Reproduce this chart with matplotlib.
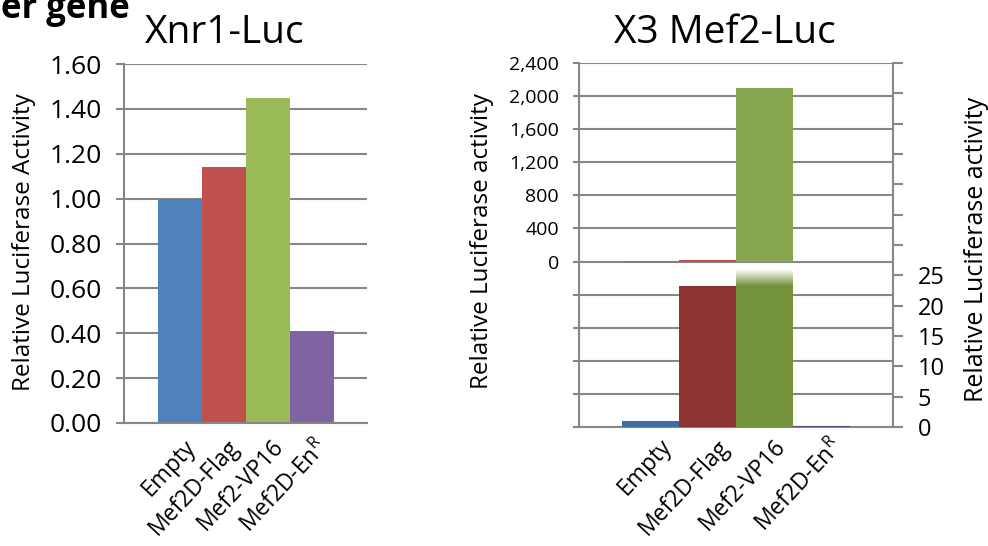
import numpy as np
import matplotlib
matplotlib.use("Agg")
import matplotlib.pyplot as plt
from matplotlib.patches import Rectangle
from matplotlib.ticker import FixedLocator, FuncFormatter
from matplotlib.transforms import ScaledTranslation

plt.rcParams['font.family'] = ['Open Sans', 'DejaVu Sans']
plt.rcParams['mathtext.fontset'] = 'custom'
plt.rcParams['mathtext.rm'] = 'Open Sans'
plt.rcParams['mathtext.it'] = 'Open Sans'

# ---- data ----
constructs = ['Empty', 'Mef2D-Flag', 'Mef2-VP16', r'Mef2D-En$^{\mathrm{R}}$']
xnr1_activity = [1.00, 1.14, 1.45, 0.41]
mef2_activity = [1.0, 23.3, 2100.0, 0.2]

xnr1_colors = ['#4F81BD', '#C0504D', '#9BBB59', '#8064A2']
mef2_colors_main = ['#4F81BD', '#C0504D', '#88A54F', '#8064A2']
mef2_colors_zoom = ['#3F6CA5', '#8E3433', '#74923C', '#5F497A']

GRID = '#878787'
W, H = 988, 546
fig = plt.figure(figsize=(W / 100, H / 100), dpi=100)


def px_axes(x0, y_top, x1, y_bot):
    return fig.add_axes([x0 / W, (H - y_bot) / H, (x1 - x0) / W, (y_bot - y_top) / H])


def fy(y_px):
    return 1 - y_px / H


def style_axis(ax, ticklen, pad):
    for s in ['top', 'right']:
        ax.spines[s].set_visible(False)
    for s in ['left', 'bottom']:
        ax.spines[s].set_color(GRID)
        ax.spines[s].set_linewidth(1.5)
    ax.grid(axis='y', color=GRID, linewidth=1.5)
    ax.set_axisbelow(True)
    ax.tick_params(axis='y', length=ticklen, width=1.5, color=GRID, direction='out', pad=pad)
    ax.tick_params(axis='x', length=0)


def xlabels(ax, fontsize, pad, shift_px):
    ax.set_xticks(range(len(constructs)))
    ax.set_xticklabels(constructs, rotation=47, ha='right', va='top',
                       rotation_mode='anchor', fontsize=fontsize)
    ax.tick_params(axis='x', pad=pad)
    shift = ScaledTranslation(shift_px / 100, 0, fig.dpi_scale_trans)
    for lbl in ax.get_xticklabels():
        lbl.set_transform(lbl.get_transform() + shift)


fig.text(1 / W, fy(18), 'er gene', fontsize=25, fontweight='bold', va='baseline', ha='left')

# ---- Xnr1-Luc ----
ax1 = px_axes(124, 64, 367, 423)
x = np.arange(len(constructs))
ax1.bar(x, xnr1_activity, width=1.0, color=xnr1_colors, zorder=2)
ax1.set_xlim(-1.273, 4.25)
ax1.set_ylim(0, 1.6)
ax1.set_yticks(np.arange(0, 1.61, 0.2))
ax1.yaxis.set_major_formatter(FuncFormatter(lambda v, p: f'{v:.2f}'))
style_axis(ax1, 6, 10)
ax1.tick_params(axis='y', labelsize=19)
xlabels(ax1, 16.5, 8.5, 3)
fig.text(24 / W, fy(242), 'Relative Luciferase Activity', fontsize=17.5,
         rotation=90, ha='center', va='center')
fig.text(225 / W, fy(43), 'Xnr1-Luc', fontsize=28, ha='center', va='baseline')

# ---- X3 Mef2-Luc (broken scale: full range on the left axis, low range on the right) ----
ax2 = px_axes(579, 63, 893, 427)
ax2.bar(x, mef2_activity, width=1.0, color=mef2_colors_main, zorder=2)
ax2.set_xlim(-1.258, 4.258)
ax2.set_ylim(-2000, 2400)
ax2.yaxis.set_major_locator(FixedLocator(np.arange(-2000, 2401, 400)))
ax2.yaxis.set_major_formatter(FuncFormatter(lambda v, p: f'{v:,.0f}' if v >= 0 else ''))
style_axis(ax2, 4.5, 10)
ax2.tick_params(axis='y', labelsize=14)
xlabels(ax2, 16.5, 5.5, 9)
fig.text(482 / W, fy(241), 'Relative Luciferase activity', fontsize=17.5,
         rotation=90, ha='center', va='center')
fig.text(725 / W, fy(43), 'X3 Mef2-Luc', fontsize=28, ha='center', va='baseline')

ax3 = ax2.twinx()
low_bars = ax3.bar(x, mef2_activity, width=1.0, color=mef2_colors_zoom, zorder=2)
ax3.set_ylim(0, 60)
cut = 25.9
clip = Rectangle((-5, 0), 15, cut, transform=ax3.transData)
for b in low_bars:
    b.set_clip_path(clip)
# fade the truncated bar into white at the break
fade = np.zeros((64, 1, 4))
fade[..., :3] = 1.0
fade[:, 0, 3] = np.linspace(1.0, 0.0, 64)
ax3.imshow(fade, extent=(1.5, 2.5, 23.2, cut), origin='upper', aspect='auto',
           interpolation='bilinear', zorder=3)
ax3.set_xlim(-1.258, 4.258)
ax3.set_ylim(0, 60)
ax3.yaxis.set_major_locator(FixedLocator(np.arange(0, 61, 5)))
ax3.yaxis.set_major_formatter(FuncFormatter(lambda v, p: f'{v:.0f}' if v <= 25 else ''))
for s in ['top', 'left', 'bottom']:
    ax3.spines[s].set_visible(False)
ax3.spines['right'].set_color(GRID)
ax3.spines['right'].set_linewidth(1.5)
ax3.tick_params(axis='y', length=7, width=1.5, color=GRID, labelsize=17, pad=11)
fig.text(976 / W, fy(249), 'Relative Luciferase activity', fontsize=18,
         rotation=90, ha='center', va='center')

fig.savefig('out.png', dpi=100)
